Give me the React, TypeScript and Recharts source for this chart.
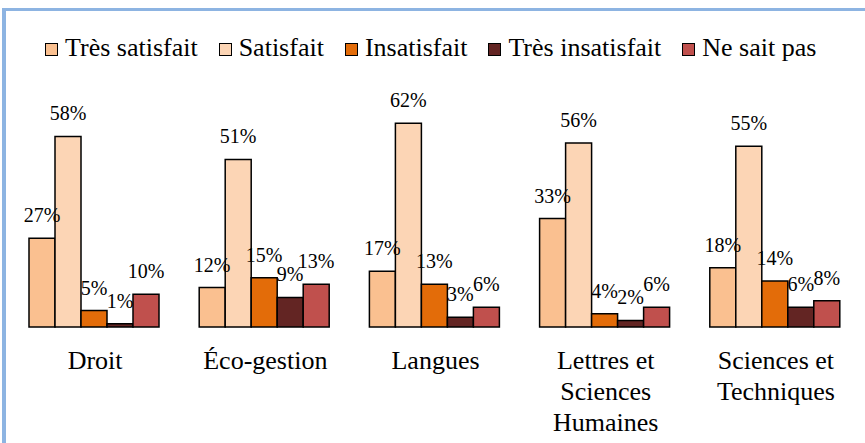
import { BarChart, Bar, XAxis, YAxis, LabelList } from 'recharts';

const CATEGORIES = ['Droit', 'Éco-gestion', 'Langues', 'Lettres et Sciences Humaines', 'Sciences et Techniques'];
// tick labels are wrapped the way the original shows them
const TICK_LINES: Record<string, string[]> = {
  'Droit': ['Droit'],
  'Éco-gestion': ['Éco-gestion'],
  'Langues': ['Langues'],
  'Lettres et Sciences Humaines': ['Lettres et', 'Sciences', 'Humaines'],
  'Sciences et Techniques': ['Sciences et', 'Techniques'],
};

const TRES_SATISFAIT = [27, 12, 17, 33, 18];
const SATISFAIT = [58, 51, 62, 56, 55];
const INSATISFAIT = [5, 15, 13, 4, 14];
const TRES_INSATISFAIT = [1, 9, 3, 2, 6];
const NE_SAIT_PAS = [10, 13, 6, 6, 8];

const SERIES = [
  { key: 'tresSatisfait', name: 'Très satisfait', values: TRES_SATISFAIT, color: '#FAC090' },
  { key: 'satisfait', name: 'Satisfait', values: SATISFAIT, color: '#FCD5B5' },
  { key: 'insatisfait', name: 'Insatisfait', values: INSATISFAIT, color: '#E36C09' },
  { key: 'tresInsatisfait', name: 'Très insatisfait', values: TRES_INSATISFAIT, color: '#632523' },
  { key: 'neSaitPas', name: 'Ne sait pas', values: NE_SAIT_PAS, color: '#C0504D' },
];

const data = CATEGORIES.map((cat, i) => {
  const row: Record<string, string | number> = { name: cat };
  SERIES.forEach((s) => {
    row[s.key] = s.values[i];
  });
  return row;
});

const FONT = 'Liberation Serif';

function CategoryTick(props: any) {
  const { x, y, payload } = props;
  const lines = TICK_LINES[payload.value] || [payload.value];
  return (
    <text x={x} y={y + 34} textAnchor="middle" fill="#000" fontSize={26} style={{ fontFamily: FONT }}>
      {lines.map((line, i) => (
        <tspan key={i} x={x} dy={i === 0 ? 0 : 31}>
          {line}
        </tspan>
      ))}
    </text>
  );
}

export default function App() {
  return (
    <div
      style={{
        position: 'absolute',
        left: 0,
        top: 0,
        width: 865,
        height: 443,
        background: '#fff',
        overflow: 'hidden',
        fontFamily: FONT,
      }}
    >
      <div
        style={{
          position: 'absolute',
          left: 2,
          top: 8,
          width: 900,
          height: 500,
          borderTop: '3px solid #8DB4E2',
          borderLeft: '4px solid #8DB4E2',
        }}
      />
      <div
        style={{
          position: 'absolute',
          left: 45,
          top: 31,
          display: 'flex',
          alignItems: 'center',
          fontSize: 26,
          lineHeight: '34px',
          color: '#000',
          whiteSpace: 'nowrap',
          fontFamily: FONT,
        }}
      >
        {SERIES.map((s) => (
          <div key={s.key} style={{ display: 'flex', alignItems: 'center', marginRight: 21 }}>
            <span
              style={{
                display: 'inline-block',
                width: 11,
                height: 11,
                background: s.color,
                border: '1.5px solid #000',
                marginRight: 7,
                marginTop: 2,
              }}
            />
            <span>{s.name}</span>
          </div>
        ))}
      </div>
      <BarChart
        width={865}
        height={443}
        data={data}
        margin={{ top: 97, right: 4, left: 10, bottom: 0 }}
        barCategoryGap={19}
        barGap={0}
        style={{ position: 'absolute', left: 0, top: 0, fontFamily: FONT }}
      >
        <XAxis
          dataKey="name"
          axisLine={false}
          tickLine={false}
          height={116}
          interval={0}
          tick={<CategoryTick />}
        />
        <YAxis hide domain={[0, 70]} />
        {SERIES.map((s) => (
          <Bar
            key={s.key}
            dataKey={s.key}
            name={s.name}
            fill={s.color}
            stroke="#000"
            strokeWidth={1.5}
            isAnimationActive={false}
          >
            <LabelList
              dataKey={s.key}
              position="top"
              offset={16}
              formatter={(v: any) => `${v}%`}
              fill="#000"
              fontSize={20}
              style={{ fontFamily: FONT }}
            />
          </Bar>
        ))}
      </BarChart>
    </div>
  );
}
